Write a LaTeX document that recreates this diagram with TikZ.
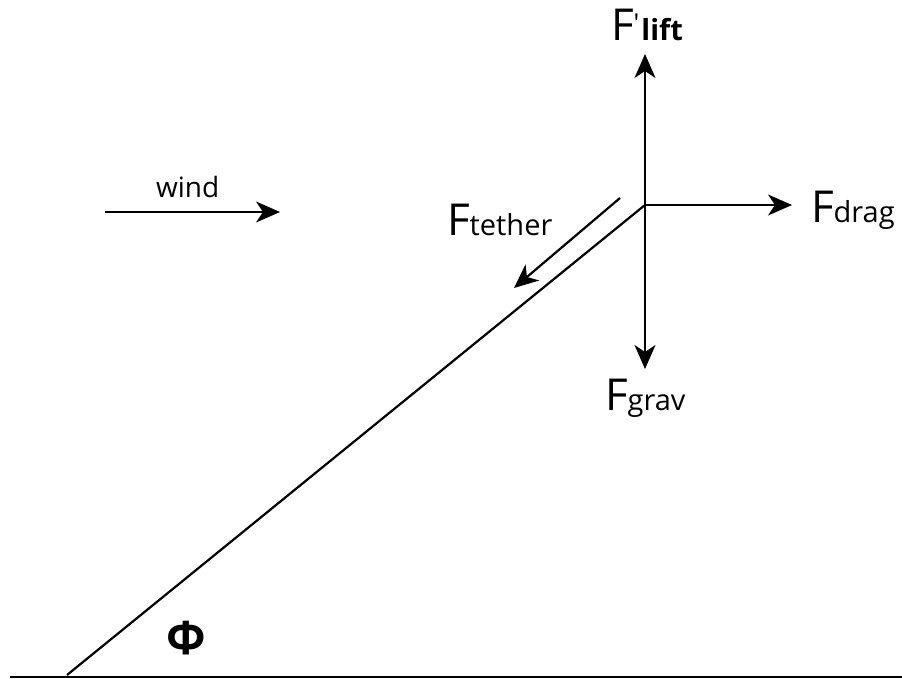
\documentclass[tikz,border=0pt]{standalone}
\usepackage{fontspec}
\setmainfont{Open Sans}
\usetikzlibrary{arrows.meta}
\begin{document}
\begin{tikzpicture}[x=1pt,y=-1pt,
  ln/.style={line width=2.2pt, line cap=butt},
  arr/.style={ln, -{Stealth[length=24pt,width=21pt,inset=7pt]}},
  lbl/.style={anchor=base west, inner sep=0pt, outer sep=0pt},
]
\useasboundingbox (0,0) rectangle (902,678);
\coordinate (K) at (645,205);
\coordinate (L) at (645,54);
\coordinate (D) at (792,205);
\coordinate (G) at (645,369);
\coordinate (B) at (67,675);
\coordinate (T1) at (620,198);
\coordinate (T2) at (514,288);
\coordinate (W1) at (105,212);
\coordinate (W2) at (280,212);
\coordinate (GL) at (10,677);
\coordinate (GR) at (902,677);

\draw[ln] (K) -- (B);
\draw[ln] (GL) -- (GR);
\draw[arr] (K) -- (L);
\draw[arr] (K) -- (D);
\draw[arr] (K) -- (G);
\draw[arr] (T1) -- (T2);
\draw[arr] (W1) -- (W2);

\node[lbl] (lift) at (611,40) {\fontsize{44}{44}\selectfont F\raisebox{8pt}{\fontsize{26}{26}\selectfont\textquotesingle}\hspace{2pt}\fontsize{29}{29}\selectfont\bfseries lift};
\node[lbl] (drag) at (811,222) {\fontsize{44}{44}\selectfont F\fontsize{29}{29}\selectfont drag};
\node[lbl] (teth) at (447,235) {\fontsize{44}{44}\selectfont F\fontsize{29}{29}\selectfont tether};
\node[lbl] (grav) at (605,410) {\fontsize{44}{44}\selectfont F\fontsize{29}{29}\selectfont grav};
\node[lbl] (wind) at (156,197) {\fontsize{28}{28}\selectfont wind};
\node[lbl] (phi) at (166,654) {\fontsize{46}{46}\selectfont\bfseries Φ};
\end{tikzpicture}
\end{document}
